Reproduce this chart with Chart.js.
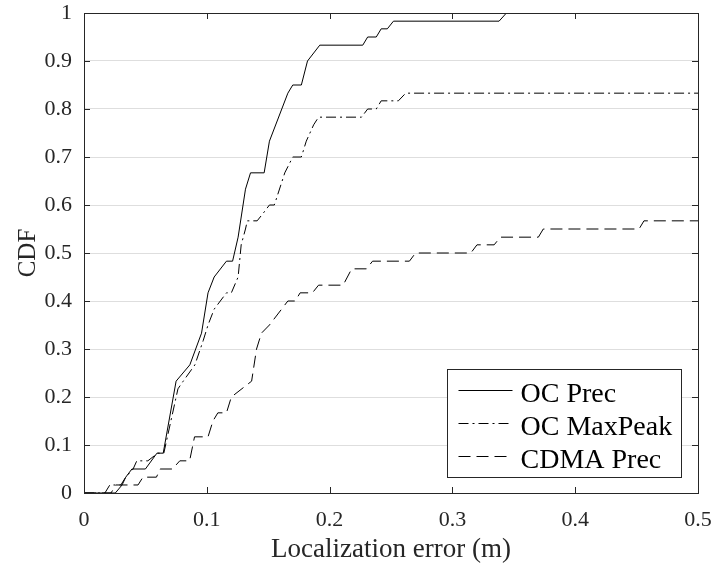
<!DOCTYPE html>
<html>
<head>
<meta charset="utf-8">
<title>CDF of localization error</title>
<script src="https://cdn.jsdelivr.net/npm/chart.js@4/dist/chart.umd.min.js"></script>
<style>
	body { margin: 0; background: #ffffff; }
	#cdfChart { display: block; }
</style>
</head>
<body>
<canvas id="cdfChart" width="716" height="566"></canvas>
<script>
//CDF chart values

var seriesNames = ['OC Prec', 'OC MaxPeak', 'CDMA Prec'];

var ocPrecX = [0, 0.0255, 0.031, 0.034, 0.039, 0.05, 0.0594, 0.0645, 0.075, 0.0862, 0.0957, 0.101, 0.106, 0.116, 0.121, 0.1255, 0.1315, 0.1356, 0.1467, 0.151, 0.166, 0.170, 0.177, 0.182, 0.192, 0.227, 0.231, 0.238, 0.242, 0.247, 0.252, 0.338, 0.344, 0.5];
var ocPrecY = [0, 0, 0.0167, 0.033, 0.05, 0.05, 0.083, 0.083, 0.233, 0.267, 0.333, 0.417, 0.45, 0.483, 0.483, 0.533, 0.633, 0.667, 0.667, 0.733, 0.833, 0.85, 0.85, 0.9, 0.933, 0.933, 0.95, 0.95, 0.967, 0.967, 0.983, 0.983, 1, 1];

var ocMaxPeakX = [0, 0.017, 0.021, 0.03, 0.034, 0.04, 0.043, 0.052, 0.06, 0.065, 0.0765, 0.0808, 0.0903, 0.097, 0.101, 0.106, 0.116, 0.12, 0.1255, 0.128, 0.1315, 0.133, 0.141, 0.146, 0.151, 0.155, 0.1635, 0.170, 0.177, 0.181, 0.187, 0.191, 0.226, 0.231, 0.238, 0.242, 0.256, 0.262, 0.5];
var ocMaxPeakY = [0, 0, 0.0167, 0.0167, 0.033, 0.05, 0.067, 0.067, 0.083, 0.083, 0.217, 0.233, 0.267, 0.317, 0.35, 0.383, 0.417, 0.417, 0.45, 0.517, 0.55, 0.567, 0.567, 0.583, 0.6, 0.6, 0.667, 0.7, 0.7, 0.733, 0.767, 0.783, 0.783, 0.8, 0.8, 0.817, 0.817, 0.833, 0.833];

var cdmaPrecX = [0, 0.022, 0.026, 0.044, 0.048, 0.059, 0.062, 0.072, 0.078, 0.086, 0.09, 0.101, 0.105, 0.109, 0.116, 0.12, 0.1365, 0.1405, 0.1445, 0.151, 0.166, 0.172, 0.176, 0.186, 0.191, 0.211, 0.218, 0.23, 0.235, 0.265, 0.27, 0.315, 0.32, 0.334, 0.339, 0.37, 0.374, 0.452, 0.456, 0.5];
var cdmaPrecY = [0, 0, 0.0167, 0.0167, 0.033, 0.033, 0.05, 0.05, 0.067, 0.067, 0.117, 0.117, 0.15, 0.167, 0.167, 0.2, 0.233, 0.3, 0.333, 0.35, 0.4, 0.4, 0.417, 0.417, 0.433, 0.433, 0.467, 0.467, 0.483, 0.483, 0.5, 0.5, 0.517, 0.517, 0.533, 0.533, 0.55, 0.55, 0.567, 0.567];

var xTickLabels = ['0', '0.1', '0.2', '0.3', '0.4', '0.5'];
var yTickLabels = ['0', '0.1', '0.2', '0.3', '0.4', '0.5', '0.6', '0.7', '0.8', '0.9', '1'];

var serifFont = "'Liberation Serif', 'Times New Roman', serif";
var axisColor = '#262626';

function toPoints(xs, ys) {
	return xs.map(function(x, i) {
		return { x: x, y: ys[i] };
	});
}

// matlab style box, inward ticks and the legend inside the axes
var matlabAxesPlugin = {
	id: 'matlabAxes',
	afterDatasetsDraw: function(chart) {
		var ctx = chart.ctx;
		var area = chart.chartArea;
		var xScale = chart.scales.x;
		var yScale = chart.scales.y;
		var tickLen = 6;

		ctx.save();
		ctx.strokeStyle = axisColor;
		ctx.lineWidth = 1;
		ctx.setLineDash([]);
		ctx.beginPath();
		xScale.ticks.forEach(function(t) {
			var px = Math.round(xScale.getPixelForValue(t.value)) + 0.5;
			ctx.moveTo(px, area.bottom);
			ctx.lineTo(px, area.bottom - tickLen);
			ctx.moveTo(px, area.top);
			ctx.lineTo(px, area.top + tickLen);
		});
		yScale.ticks.forEach(function(t) {
			var py = Math.round(yScale.getPixelForValue(t.value)) + 0.5;
			ctx.moveTo(area.left, py);
			ctx.lineTo(area.left + tickLen, py);
			ctx.moveTo(area.right, py);
			ctx.lineTo(area.right - tickLen, py);
		});
		ctx.stroke();
		ctx.strokeRect(Math.round(area.left) + 0.5, Math.round(area.top) + 0.5,
			Math.round(area.right - area.left), Math.round(area.bottom - area.top));

		// legend box, lower right corner
		var boxW = 234, boxH = 108;
		var boxX = Math.round(area.right - 17 - boxW) + 0.5;
		var boxY = Math.round(area.bottom - 16 - boxH) + 0.5;
		ctx.fillStyle = '#ffffff';
		ctx.fillRect(boxX, boxY, boxW, boxH);
		ctx.strokeStyle = axisColor;
		ctx.strokeRect(boxX, boxY, boxW, boxH);

		ctx.font = '28px ' + serifFont;
		ctx.textAlign = 'left';
		ctx.textBaseline = 'alphabetic';
		chart.data.datasets.forEach(function(ds, i) {
			var lineY = Math.round(boxY + 20 + i * 33) + 0.5;
			ctx.strokeStyle = ds.borderColor;
			ctx.lineWidth = ds.borderWidth;
			ctx.setLineDash(ds.borderDash || []);
			ctx.beginPath();
			ctx.moveTo(boxX + 11, lineY);
			ctx.lineTo(boxX + 65, lineY);
			ctx.stroke();
			ctx.fillStyle = '#000000';
			ctx.fillText(ds.label, boxX + 73, boxY + 32 + i * 33);
		});
		ctx.restore();
	}
};

function loadCdfChart() {
	var ctx = document.getElementById('cdfChart');
	var myChart = new Chart(ctx, {
		type: 'line',
		data: {
			datasets: [{
				label: seriesNames[0],
				data: toPoints(ocPrecX, ocPrecY),
				borderColor: '#000000',
				borderWidth: 1,
				borderDash: []
			}, {
				label: seriesNames[1],
				data: toPoints(ocMaxPeakX, ocMaxPeakY),
				borderColor: '#000000',
				borderWidth: 1,
				borderDash: [10, 4, 2, 4]
			}, {
				label: seriesNames[2],
				data: toPoints(cdmaPrecX, cdmaPrecY),
				borderColor: '#000000',
				borderWidth: 1,
				borderDash: [12, 6]
			}]
		},
		options: {
			responsive: false,
			animation: false,
			devicePixelRatio: 1,
			layout: {
				padding: { top: 13, right: 18, bottom: 0, left: 0 }
			},
			elements: {
				point: { radius: 0, hoverRadius: 0 },
				line: { tension: 0, fill: false }
			},
			plugins: {
				legend: { display: false },
				tooltip: { enabled: false }
			},
			scales: {
				x: {
					type: 'linear',
					min: 0,
					max: 0.5,
					grid: { display: false, drawTicks: false },
					border: { display: false },
					ticks: {
						stepSize: 0.1,
						padding: 14,
						color: axisColor,
						font: { family: serifFont, size: 22 },
						maxRotation: 0,
						callback: function(value, index) {
							return xTickLabels[index];
						}
					},
					title: {
						display: true,
						text: 'Localization error (m)',
						color: axisColor,
						font: { family: serifFont, size: 27 },
						padding: { top: 0, bottom: 0 }
					},
					afterFit: function(scale) {
						scale.height = 73;
						scale.paddingLeft = 0;
						scale.paddingRight = 0;
					}
				},
				y: {
					type: 'linear',
					min: 0,
					max: 1,
					grid: { color: '#dedede', lineWidth: 1, drawTicks: false },
					border: { display: false },
					ticks: {
						stepSize: 0.1,
						padding: 12,
						color: axisColor,
						font: { family: serifFont, size: 22 },
						callback: function(value, index) {
							return yTickLabels[index];
						}
					},
					title: {
						display: true,
						text: 'CDF',
						color: axisColor,
						font: { family: serifFont, size: 25 },
						padding: { top: 13, bottom: 0 }
					},
					afterFit: function(scale) {
						scale.width = 84;
						scale.paddingTop = 0;
						scale.paddingBottom = 0;
					}
				}
			}
		},
		plugins: [matlabAxesPlugin]
	});
}

loadCdfChart();
</script>
</body>
</html>
